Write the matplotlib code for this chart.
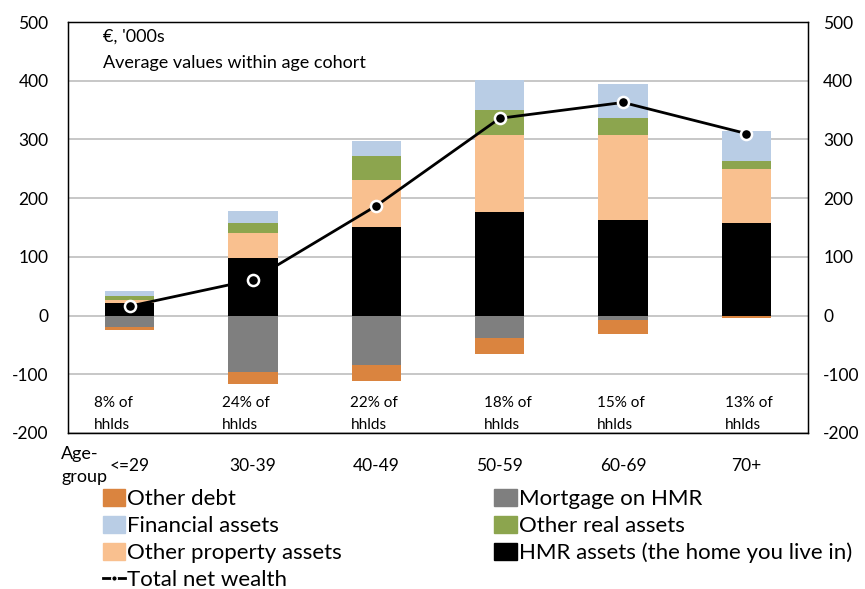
import matplotlib.pyplot as plt
import numpy as np
from matplotlib.patches import Patch
from matplotlib.lines import Line2D

plt.rcParams['font.family'] = ['Lato', 'DejaVu Sans']
plt.rcParams['axes.unicode_minus'] = False

# data, '000 euro
groups = ['<=29', '30-39', '40-49', '50-59', '60-69', '70+']
hmr_assets = [22, 98, 151, 176, 163, 158]
other_property = [4, 42, 80, 132, 144, 91]
other_real = [8, 17, 40, 43, 30, 15]
financial = [8, 21, 27, 50, 57, 51]
mortgage = [-20, -96, -84, -39, -8, -1]
other_debt = [-4, -21, -27, -27, -24, -4]
net_wealth = [16, 61, 187, 336, 363, 310]
shares = ['8%', '24%', '22%', '18%', '15%', '13%']
share_x = [-0.29, 0.75, 1.79, 2.87, 3.79, 4.83]

c_debt = '#DA843F'
c_mort = '#7F7F7F'
c_fin = '#B9CDE5'
c_real = '#8CA54E'
c_prop = '#F9C08F'
c_hmr = '#000000'

fig = plt.figure(figsize=(8.65, 5.89), dpi=100)
ax = fig.add_axes([0.0786, 0.2649, 0.8555, 0.6977])

x = np.arange(len(groups))
w = 0.4

b = np.zeros(len(groups))
for vals, col in [(hmr_assets, c_hmr), (other_property, c_prop),
                  (other_real, c_real), (financial, c_fin)]:
    ax.bar(x, vals, w, bottom=b, color=col, zorder=2)
    b = b + np.array(vals)

nb = np.zeros(len(groups))
for vals, col in [(mortgage, c_mort), (other_debt, c_debt)]:
    ax.bar(x, vals, w, bottom=nb, color=col, zorder=2)
    nb = nb + np.array(vals)

ax.plot(x, net_wealth, color='black', lw=2, marker='o', ms=8,
        mfc='black', mec='white', mew=1.8, zorder=4)

ax.set_xlim(-0.5, 5.5)
ax.set_ylim(-200, 500)
ax.set_yticks(range(-200, 501, 100))
ax.yaxis.grid(True, color='#BDBDBD', lw=1.2, zorder=0)
ax.set_axisbelow(True)
for s in ax.spines.values():
    s.set_color('black')
    s.set_linewidth(1)
ax.set_xticks(x)
ax.set_xticklabels(groups, fontsize=12.5)
ax.tick_params(axis='x', length=0, pad=18)
ax.tick_params(axis='y', length=0, labelsize=12.5, pad=14)

ax2 = ax.twinx()
ax2.set_ylim(-200, 500)
ax2.set_yticks(range(-200, 501, 100))
ax2.tick_params(axis='y', length=0, labelsize=12.5, pad=11)

ax.text(0.047, 0.985, "€, '000s", transform=ax.transAxes, fontsize=13, va='top')
ax.text(0.047, 0.92, "Average values within age cohort", transform=ax.transAxes,
        fontsize=13, va='top')

for sx, sh in zip(share_x, shares):
    ax.text(sx, -137, sh + ' of\nhhlds', fontsize=11, va='top', ha='left', linespacing=1.75)

fig.text(0.071, 0.21, 'Age-\ngroup', fontsize=13, va='center', ha='left', linespacing=1.55)

handles = [Patch(color=c_debt), Patch(color=c_fin), Patch(color=c_prop),
           Line2D([], [], color='black', lw=2, marker='o', ms=4, mec='white'),
           Patch(color=c_mort), Patch(color=c_real), Patch(color=c_hmr)]
labels = ['Other debt', 'Financial assets', 'Other property assets', 'Total net wealth',
          'Mortgage on HMR', 'Other real assets', 'HMR assets (the home you live in)']
fig.legend(handles, labels, loc='upper left', bbox_to_anchor=(0.119, 0.17), ncol=2,
           frameon=False, fontsize=16, handlelength=1.0, handleheight=0.8,
           handletextpad=0.1, labelspacing=0.3, columnspacing=6.85, borderaxespad=0,
           borderpad=0)

fig.savefig('out.png', dpi=100)
